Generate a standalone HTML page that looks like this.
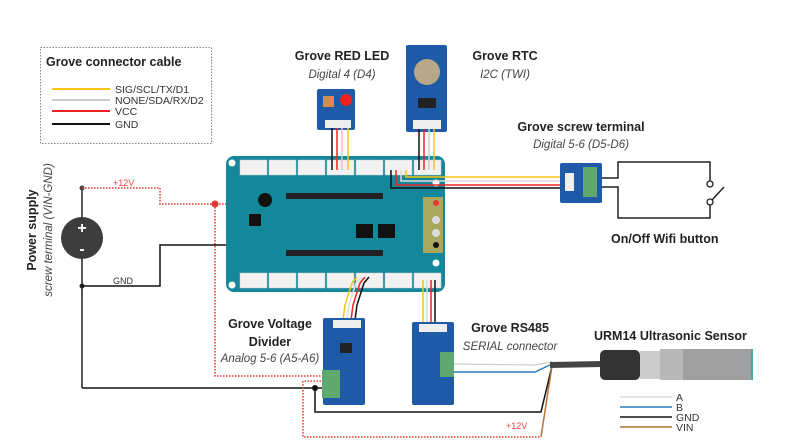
<!DOCTYPE html>
<html><head><meta charset="utf-8"><style>
html,body{margin:0;padding:0;background:#fff;}
svg{display:block;font-family:"Liberation Sans",sans-serif;}
.b{font-weight:bold;font-size:12.5px;fill:#222;}
.i{font-style:italic;font-size:11.5px;fill:#444;}
.s{font-size:10.5px;fill:#333;}
</style></head><body>
<svg width="786" height="442" viewBox="0 0 786 442" xmlns="http://www.w3.org/2000/svg">
<!-- legend -->
<rect x="40.5" y="47.5" width="171" height="96" fill="none" stroke="#888" stroke-dasharray="1.5,1.5"/>
<text x="46" y="66" class="b">Grove connector cable</text>
<line x1="52" y1="89" x2="110" y2="89" stroke="#f5c518" stroke-width="2"/>
<line x1="52" y1="100" x2="110" y2="100" stroke="#ccc" stroke-width="2"/>
<line x1="52" y1="111" x2="110" y2="111" stroke="#e22" stroke-width="2"/>
<line x1="52" y1="124" x2="110" y2="124" stroke="#111" stroke-width="2"/>
<text x="115" y="93" class="s">SIG/SCL/TX/D1</text>
<text x="115" y="104" class="s">NONE/SDA/RX/D2</text>
<text x="115" y="115" class="s">VCC</text>
<text x="115" y="128" class="s">GND</text>

<!-- power supply -->
<text transform="translate(36,230) rotate(-90)" text-anchor="middle" class="b" font-size="13">Power supply</text>
<text transform="translate(52,230) rotate(-90)" text-anchor="middle" class="i">screw terminal (VIN-GND)</text>
<line x1="82" y1="188" x2="82" y2="388" stroke="#222" stroke-width="1.5"/>
<circle cx="82" cy="238" r="21" fill="#3d3d3d"/>
<text x="82" y="233" text-anchor="middle" fill="#fff" font-size="16" font-weight="bold">+</text>
<text x="82" y="254" text-anchor="middle" fill="#fff" font-size="16" font-weight="bold">-</text>
<circle cx="82" cy="188" r="2.5" fill="#444"/>
<circle cx="82" cy="286" r="2.5" fill="#222"/>
<text x="113" y="186" fill="#e44" font-size="9">+12V</text>
<text x="113" y="284" fill="#333" font-size="9">GND</text>
<polyline points="82,188 160,188 160,204 436,204" fill="none" stroke="#e33" stroke-width="1.5" stroke-dasharray="1.5,1.5"/>
<polyline points="215,204 215,376 330,376" fill="none" stroke="#e33" stroke-width="1.5" stroke-dasharray="1.5,1.5"/>
<circle cx="215" cy="204" r="3.5" fill="#e33"/>
<polyline points="82,286 160,286 160,245 436,245" fill="none" stroke="#111" stroke-width="1.5"/>
<polyline points="82,388 330,388" fill="none" stroke="#111" stroke-width="1.5"/>
<polyline points="315,388 315,412 541,412 552,366" fill="none" stroke="#111" stroke-width="1.5"/>
<circle cx="315" cy="388" r="3" fill="#111"/>
<polyline points="330,381 303,381 303,437 541,437" fill="none" stroke="#e33" stroke-width="1.5" stroke-dasharray="1.5,1.5"/>
<polyline points="541,437 552,366" fill="none" stroke="#b87333" stroke-width="1.5"/>
<text x="506" y="429" fill="#e44" font-size="9">+12V</text>

<!-- main board -->
<rect x="226" y="156" width="219" height="136" rx="8" fill="#15879a"/>
<g fill="#f2f2f2" stroke="#ccc" stroke-width="0.5">
<rect x="240" y="160" width="27" height="15"/><rect x="269" y="160" width="27" height="15"/><rect x="298" y="160" width="27" height="15"/><rect x="327" y="160" width="27" height="15"/><rect x="356" y="160" width="27" height="15"/><rect x="385" y="160" width="27" height="15"/><rect x="414" y="160" width="27" height="15"/>
<rect x="240" y="273" width="27" height="15"/><rect x="269" y="273" width="27" height="15"/><rect x="298" y="273" width="27" height="15"/><rect x="327" y="273" width="27" height="15"/><rect x="356" y="273" width="27" height="15"/><rect x="385" y="273" width="27" height="15"/><rect x="414" y="273" width="27" height="15"/>
</g>
<circle cx="232" cy="163" r="3.5" fill="#fff"/><circle cx="232" cy="285" r="3.5" fill="#fff"/>
<circle cx="436" cy="183" r="3.5" fill="#fff"/><circle cx="436" cy="263" r="3.5" fill="#fff"/>
<rect x="286" y="193" width="97" height="6" fill="#222"/>
<rect x="286" y="250" width="97" height="6" fill="#222"/>
<circle cx="265" cy="200" r="7" fill="#111"/>
<rect x="249" y="214" width="12" height="12" fill="#111"/>
<rect x="356" y="224" width="17" height="14" fill="#111"/><rect x="378" y="224" width="17" height="14" fill="#111"/>
<rect x="423" y="197" width="20" height="56" fill="#a7a85e"/>
<circle cx="436" cy="203" r="3" fill="#e33"/><circle cx="436" cy="220" r="4" fill="#ddd"/><circle cx="436" cy="233" r="4" fill="#ddd"/><circle cx="436" cy="245" r="3" fill="#111"/>

<!-- LED module -->
<text x="342" y="60" text-anchor="middle" class="b">Grove RED LED</text>
<text x="342" y="78" text-anchor="middle" class="i">Digital 4 (D4)</text>
<rect x="317" y="89" width="38" height="41" rx="2" fill="#1f5aa8"/>
<rect x="323" y="96" width="11" height="11" fill="#d98a4a"/>
<circle cx="346" cy="100" r="6" fill="#e22"/>
<rect x="325" y="120" width="26" height="8" fill="#eee"/>
<line x1="332" y1="128" x2="332" y2="170" stroke="#111" stroke-width="1.5"/>
<line x1="337" y1="128" x2="337" y2="170" stroke="#e22" stroke-width="1.5"/>
<line x1="342" y1="128" x2="342" y2="170" stroke="#ccc" stroke-width="1.5"/>
<line x1="348" y1="128" x2="348" y2="170" stroke="#f5c518" stroke-width="1.5"/>

<!-- RTC -->
<text x="505" y="60" text-anchor="middle" class="b">Grove RTC</text>
<text x="505" y="78" text-anchor="middle" class="i">I2C (TWI)</text>
<rect x="406" y="45" width="41" height="87" rx="2" fill="#1f5aa8"/>
<circle cx="427" cy="72" r="13" fill="#b8a88a"/>
<rect x="418" y="98" width="18" height="10" fill="#222"/>
<rect x="413" y="120" width="28" height="9" fill="#eee"/>
<line x1="419" y1="129" x2="419" y2="170" stroke="#111" stroke-width="1.5"/>
<line x1="424" y1="129" x2="424" y2="170" stroke="#e22" stroke-width="1.5"/>
<line x1="429" y1="129" x2="429" y2="170" stroke="#ccc" stroke-width="1.5"/>
<line x1="434" y1="129" x2="434" y2="170" stroke="#f5c518" stroke-width="1.5"/>

<!-- screw terminal -->
<text x="581" y="131" text-anchor="middle" class="b">Grove screw terminal</text>
<text x="581" y="148" text-anchor="middle" class="i">Digital 5-6 (D5-D6)</text>
<polyline points="391,170 391,188 568,188" fill="none" stroke="#111" stroke-width="1.5"/>
<polyline points="396,170 396,185 568,185" fill="none" stroke="#e22" stroke-width="1.5"/>
<polyline points="401,170 401,181 568,181" fill="none" stroke="#ddd" stroke-width="1.5"/>
<polyline points="406,170 406,177 568,177" fill="none" stroke="#f5c518" stroke-width="1.5"/>
<rect x="560" y="163" width="42" height="40" rx="2" fill="#1f5aa8"/>
<rect x="565" y="173" width="9" height="18" fill="#eee"/>
<rect x="583" y="167" width="14" height="30" fill="#5fa870"/>
<polyline points="602,178 618,178 618,162 710,162 710,181" fill="none" stroke="#222" stroke-width="1.5"/>
<polyline points="602,187 618,187 618,218 710,218 710,201" fill="none" stroke="#222" stroke-width="1.5"/>
<circle cx="710" cy="184" r="3" fill="#fff" stroke="#222" stroke-width="1.3"/>
<circle cx="710" cy="202" r="3" fill="#fff" stroke="#222" stroke-width="1.3"/>
<line x1="712" y1="200" x2="724" y2="187" stroke="#222" stroke-width="1.5"/>
<text x="611" y="243" class="b">On/Off Wifi button</text>

<!-- voltage divider -->
<text x="270" y="328" text-anchor="middle" class="b">Grove Voltage</text>
<text x="270" y="346" text-anchor="middle" class="b">Divider</text>
<text x="270" y="362" text-anchor="middle" class="i">Analog 5-6 (A5-A6)</text>
<polyline points="357,277 352,283 345,305 343,320" fill="none" stroke="#f5c518" stroke-width="1.5"/>
<polyline points="361,277 356,283 349,305 347,320" fill="none" stroke="#ddd" stroke-width="1.5"/>
<polyline points="365,277 360,283 353,305 351,320" fill="none" stroke="#e22" stroke-width="1.5"/>
<polyline points="369,277 364,283 357,305 355,320" fill="none" stroke="#111" stroke-width="1.5"/>
<rect x="323" y="318" width="42" height="87" rx="2" fill="#1f5aa8"/>
<rect x="333" y="320" width="28" height="8" fill="#eee"/>
<rect x="340" y="343" width="12" height="10" fill="#222"/>
<rect x="322" y="370" width="18" height="28" fill="#5fa870"/>

<!-- RS485 -->
<text x="510" y="332" text-anchor="middle" class="b">Grove RS485</text>
<text x="510" y="350" text-anchor="middle" class="i">SERIAL connector</text>
<line x1="423" y1="280" x2="423" y2="324" stroke="#f5c518" stroke-width="1.5"/>
<line x1="427" y1="280" x2="427" y2="324" stroke="#ddd" stroke-width="1.5"/>
<line x1="431" y1="280" x2="431" y2="324" stroke="#e22" stroke-width="1.5"/>
<line x1="435" y1="280" x2="435" y2="324" stroke="#111" stroke-width="1.5"/>
<rect x="412" y="322" width="42" height="83" rx="2" fill="#1f5aa8"/>
<rect x="419" y="324" width="28" height="8" fill="#eee"/>
<rect x="440" y="352" width="14" height="25" fill="#5fa870"/>
<polyline points="454,364 535,365 552,362" fill="none" stroke="#ccc" stroke-width="1.2"/>
<polyline points="454,372 535,372 552,364" fill="none" stroke="#2a7ab8" stroke-width="1.5"/>

<!-- sensor -->
<line x1="550" y1="365" x2="602" y2="364" stroke="#444" stroke-width="6"/>
<rect x="600" y="350" width="40" height="30" rx="5" fill="#333"/>
<rect x="640" y="351" width="20" height="28" fill="#ccc"/>
<rect x="660" y="349" width="23" height="31" fill="#b8b8b8"/>
<rect x="683" y="349" width="69" height="31" fill="#a0a0a0"/>
<rect x="751" y="349" width="2" height="31" fill="#4aa"/>
<text x="594" y="340" class="b" font-size="13">URM14 Ultrasonic Sensor</text>
<line x1="620" y1="397" x2="672" y2="397" stroke="#ddd" stroke-width="1.5"/>
<line x1="620" y1="407" x2="672" y2="407" stroke="#2a7ab8" stroke-width="1.5"/>
<line x1="620" y1="417" x2="672" y2="417" stroke="#111" stroke-width="1.5"/>
<line x1="620" y1="427" x2="672" y2="427" stroke="#b87333" stroke-width="1.5"/>
<text x="676" y="401" class="s">A</text>
<text x="676" y="411" class="s">B</text>
<text x="676" y="421" class="s">GND</text>
<text x="676" y="431" class="s">VIN</text>
</svg>
</body></html>
